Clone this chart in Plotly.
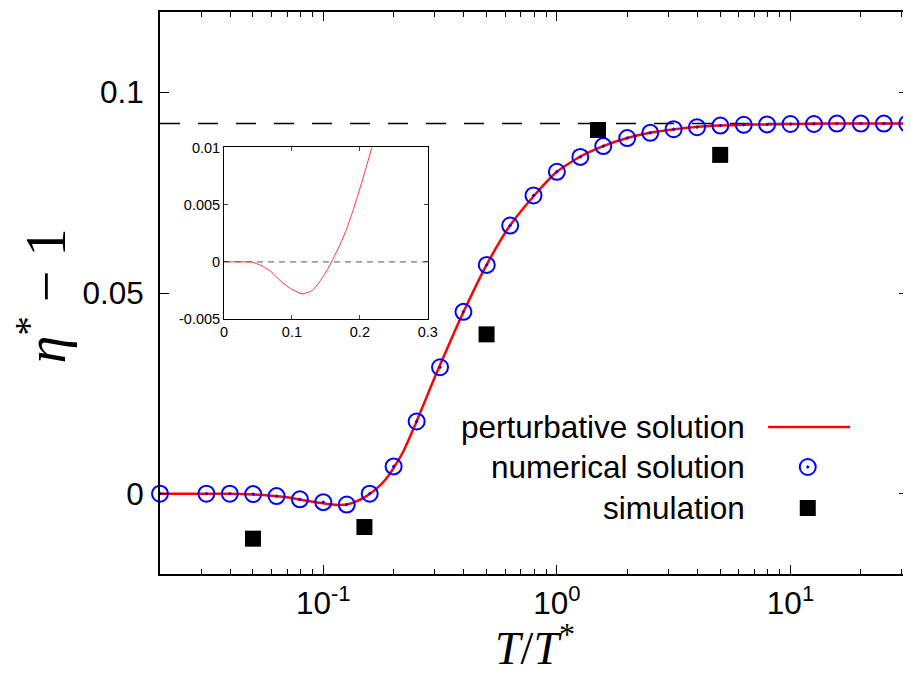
import plotly.graph_objects as go

# ---------------- data ----------------
num_x = [0.02, 0.0316, 0.0398, 0.0501, 0.0631, 0.0794, 0.1, 0.126, 0.158, 0.2,
         0.251, 0.316, 0.398, 0.501, 0.631, 0.794, 1.0, 1.26, 1.58, 2.0,
         2.51, 3.16, 3.98, 5.01, 6.31, 7.94, 10.0, 12.6, 15.8, 20.0, 25.1, 31.6]
num_y = [0.0, 0.0, 0.0, -0.0001, -0.0006, -0.0014, -0.0021, -0.0027, 0.0, 0.0068,
         0.0180, 0.0315, 0.0453, 0.0570, 0.0668, 0.0743, 0.0802, 0.0839, 0.0866, 0.0886,
         0.0899, 0.0908, 0.0913, 0.0917, 0.0919, 0.0920, 0.0921, 0.0921, 0.0922, 0.0922, 0.0922, 0.0922]

pert_x = [0.001, 0.01, 0.02, 0.03, 0.04, 0.045, 0.05, 0.06, 0.07, 0.08, 0.09, 0.1, 0.115,
          0.13, 0.14, 0.15, 0.16, 0.17, 0.18, 0.19, 0.2, 0.21, 0.22, 0.25, 0.3, 0.35,
          0.4, 0.5, 0.63, 0.8, 1.0, 1.26, 1.58, 2.0, 2.5, 3.2, 4.0, 5.0, 6.3, 8.0,
          10.0, 15.0, 20.0, 31.6]
pert_y = [0.0, 0.0, 0.0, 0.0, 0.0, -0.0001, -0.0002, -0.0005, -0.0009, -0.0015, -0.0020,
          -0.0024, -0.0028, -0.0025, -0.0018, -0.0009, 0.0002, 0.0014, 0.0028, 0.0045,
          0.0064, 0.0084, 0.0105, 0.0178, 0.0290, 0.0380, 0.0455, 0.0570, 0.0668, 0.0743,
          0.0802, 0.0840, 0.0866, 0.0886, 0.0899, 0.0908, 0.0914, 0.0917, 0.0919, 0.0920,
          0.0921, 0.0922, 0.0922, 0.0922]

sim_x = [0.05, 0.15, 0.5, 1.5, 5.0]
sim_y = [-0.0112, -0.0083, 0.0397, 0.0906, 0.0844]

asymptote = 0.0922

x_tickvals = [0.1, 1, 10]
x_ticktext = ["10<sup>-1</sup>", "10<sup>0</sup>", "10<sup>1</sup>"]
x_minor = [0.03, 0.04, 0.05, 0.06, 0.07, 0.08, 0.09,
           0.2, 0.3, 0.4, 0.5, 0.6, 0.7, 0.8, 0.9,
           2, 3, 4, 5, 6, 7, 8, 9, 20, 30]
y_tickvals = [0, 0.05, 0.1]
y_ticktext = ["0", "0.05", "0.1"]

inset_xticks = [0, 0.1, 0.2, 0.3]
inset_xtext = ["0", "0.1", "0.2", "0.3"]
inset_yticks = [-0.005, 0, 0.005, 0.01]
inset_ytext = ["-0.005", "0", "0.005", "0.01"]

legend_labels = ["perturbative solution", "numerical solution", "simulation"]
x_title = "<i>T</i>/<i>T</i><sup>*</sup>"
y_title = "<i>η</i><sup>*</sup> − 1"

# ---------------- figure ----------------
SANS = "Liberation Sans, Arial, sans-serif"
SERIF = "Liberation Serif, Times New Roman, serif"

fig = go.Figure()

fig.add_trace(go.Scatter(x=pert_x, y=pert_y, mode="lines",
                         line=dict(color="#ff0000", width=2.5, shape="spline", smoothing=0.6),
                         xaxis="x", yaxis="y", showlegend=False))
fig.add_trace(go.Scatter(x=num_x, y=num_y, mode="markers",
                         marker=dict(symbol="circle-open-dot", size=16, color="#0000ff",
                                     line=dict(width=2, color="#0000ff")),
                         xaxis="x", yaxis="y", showlegend=False, cliponaxis=False))
fig.add_trace(go.Scatter(x=sim_x, y=sim_y, mode="markers",
                         marker=dict(symbol="square", size=16, color="black", line=dict(width=0)),
                         xaxis="x", yaxis="y", showlegend=False))

# inset
fig.add_trace(go.Scatter(x=[0, 0.3], y=[0, 0], mode="lines",
                         line=dict(color="#777777", width=1.2, dash="6px,5px"),
                         xaxis="x2", yaxis="y2", showlegend=False))
fig.add_trace(go.Scatter(x=pert_x, y=pert_y, mode="lines",
                         line=dict(color="#ff3030", width=1, shape="spline", smoothing=0.6),
                         xaxis="x2", yaxis="y2", showlegend=False))

# custom legend (symbols to the right of the text, gnuplot style)
leg_y = [0.2616, 0.1904, 0.1174]
fig.add_trace(go.Scatter(x=[0.813, 0.9225], y=[leg_y[0], leg_y[0]], mode="lines",
                         line=dict(color="#ff0000", width=2.5), xaxis="x3", yaxis="y3", showlegend=False))
fig.add_trace(go.Scatter(x=[0.866], y=[leg_y[1]], mode="markers",
                         marker=dict(symbol="circle-open-dot", size=16, color="#0000ff",
                                     line=dict(width=2, color="#0000ff")),
                         xaxis="x3", yaxis="y3", showlegend=False))
fig.add_trace(go.Scatter(x=[0.866], y=[leg_y[2]], mode="markers",
                         marker=dict(symbol="square", size=16, color="black", line=dict(width=0)),
                         xaxis="x3", yaxis="y3", showlegend=False))

annotations = []
for lab, yy in zip(legend_labels, leg_y):
    annotations.append(dict(text=lab, xref="paper", yref="paper", x=0.785, y=yy,
                            xanchor="right", yanchor="middle", showarrow=False,
                            font=dict(family=SANS, size=31.5, color="black")))
annotations.append(dict(text=x_title, xref="paper", yref="paper", x=0.5013, y=-0.127,
                        xanchor="center", yanchor="middle", showarrow=False,
                        font=dict(family=SERIF, size=46, color="black")))
annotations.append(dict(text=y_title, xref="paper", yref="paper", x=-0.157, y=0.4947,
                        xanchor="center", yanchor="middle", showarrow=False, textangle=-90,
                        font=dict(family=SERIF, size=56, color="black")))

shapes = [
    dict(type="line", xref="paper", yref="y", x0=0, x1=1, y0=asymptote, y1=asymptote,
         line=dict(color="black", width=1.5, dash="20px,18px"), layer="below"),
    dict(type="line", xref="paper", yref="paper", x0=1, x1=1, y0=0, y1=0.4964,
         line=dict(color="black", width=2)),
]

# the page body adds an 8px offset, so the figure is sized/margined to compensate
fig.update_layout(
    width=903, height=667,
    margin=dict(l=152, r=3, t=4, b=101),
    paper_bgcolor="white", plot_bgcolor="rgba(0,0,0,0)",
    font=dict(family=SANS, color="black"),
    annotations=annotations,
    shapes=shapes,
    xaxis=dict(type="log", range=[-1.699, 1.503], domain=[0, 1], anchor="y", automargin=False,
               tickvals=x_tickvals, ticktext=x_ticktext, ticks="inside", ticklen=9, tickwidth=1.2,
               tickcolor="black", mirror="ticks", showline=True, linecolor="black", linewidth=2,
               showgrid=False, zeroline=False, tickfont=dict(family=SANS, size=31.5),
               minor=dict(tickvals=x_minor, ticks="inside", ticklen=5, tickwidth=1,
                          tickcolor="black", showgrid=False)),
    yaxis=dict(range=[-0.02, 0.12], domain=[0, 1], anchor="x", automargin=False,
               tickvals=y_tickvals, ticktext=y_ticktext, ticks="inside", ticklen=9, tickwidth=1.2,
               tickcolor="black", mirror="ticks", showline=True, linecolor="black", linewidth=2,
               showgrid=False, zeroline=False, tickfont=dict(family=SANS, size=31.5),
               ticklabelstandoff=8),
    xaxis2=dict(range=[0, 0.3], domain=[0.0856, 0.358], anchor="y2", automargin=False,
                tickvals=inset_xticks, ticktext=inset_xtext, ticks="inside", ticklen=4, tickcolor="#444",
                mirror="ticks", showline=True, linecolor="black", linewidth=1, showgrid=False,
                zeroline=False, tickfont=dict(family=SANS, size=14.5)),
    yaxis2=dict(range=[-0.005, 0.01], domain=[0.4537, 0.759], anchor="x2", automargin=False,
                tickvals=inset_yticks, ticktext=inset_ytext, ticks="inside", ticklen=4, tickcolor="#444",
                mirror="ticks", showline=True, linecolor="black", linewidth=1, showgrid=False,
                zeroline=False, tickfont=dict(family=SANS, size=14.5)),
    xaxis3=dict(range=[0, 1], domain=[0, 1], anchor="y3", visible=False, fixedrange=True),
    yaxis3=dict(range=[0, 1], domain=[0, 1], anchor="x3", visible=False, fixedrange=True),
)

fig.write_html("out.html")
